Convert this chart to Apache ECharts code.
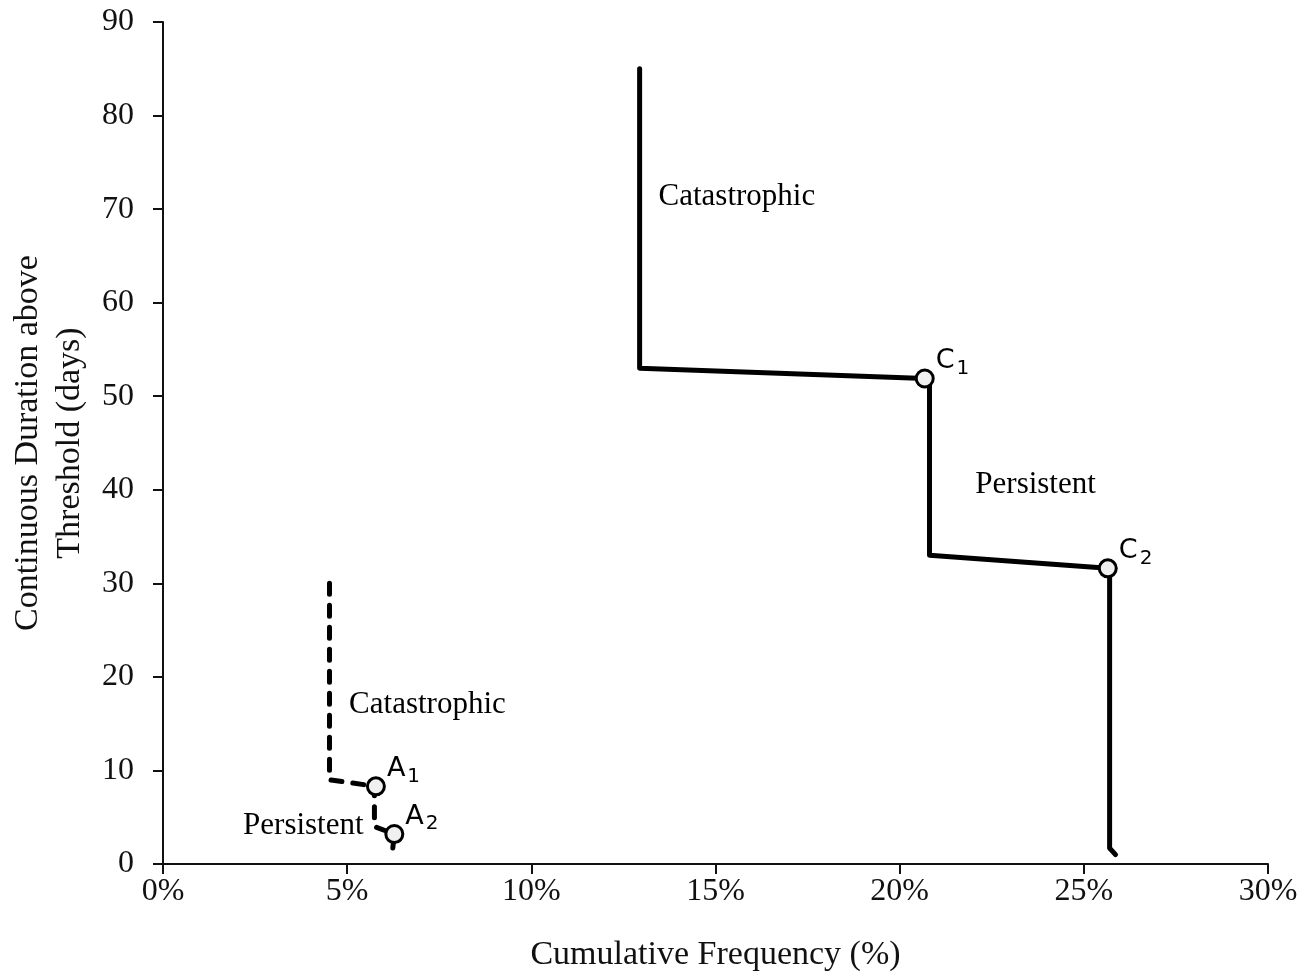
<!DOCTYPE html>
<html>
<head>
<meta charset="utf-8">
<script src="https://cdn.jsdelivr.net/npm/echarts@6/dist/echarts.min.js"></script>
<style>html,body{margin:0;padding:0;background:#fff}#c{width:1306px;height:976px}</style>
</head>
<body>
<div id="c"></div>
<script>
// Solid line (C): [cumulative frequency %, duration days]
const solidX = [12.94, 12.94, 20.68, 20.81, 20.81, 25.65, 25.70, 25.70, 25.86];
const solidY = [85, 53, 51.9, 51.5, 33.0, 31.6, 31.0, 1.7, 1.0];
// Dashed line (A)
const dashX = [4.52, 4.52, 5.78, 5.74, 5.74, 6.28, 6.22];
const dashY = [30.0, 9.0, 8.3, 7.5, 4.0, 3.2, 1.0];
// Marked points
const markNames = ['C1', 'C2', 'A1', 'A2'];
const markX = [20.68, 25.65, 5.78, 6.28];
const markY = [51.9, 31.6, 8.3, 3.2];
// Region text labels
const textLabels = ['Catastrophic', 'Persistent', 'Catastrophic', 'Persistent'];
const textX = [15.58, 23.69, 7.18, 3.81];
const textY = [71.3, 40.5, 17.0, 4.05];
// Axis ticks
const xTicks = [0, 5, 10, 15, 20, 25, 30];
const yTicks = [0, 10, 20, 30, 40, 50, 60, 70, 80, 90];

const serif = '"Liberation Serif", "Times New Roman", serif';
const zip = (a, b) => a.map((v, i) => [v, b[i]]);

const chart = echarts.init(document.getElementById('c'));
chart.setOption({
  animation: false,
  backgroundColor: '#fff',
  grid: { left: 163, right: 38, top: 22, bottom: 112, containLabel: false, outerBoundsMode: 'none' },
  xAxis: {
    type: 'value', min: xTicks[0], max: xTicks[xTicks.length - 1], interval: 5,
    name: 'Cumulative Frequency (%)', nameLocation: 'middle', nameGap: 74,
    nameTextStyle: { fontFamily: serif, fontSize: 34, color: '#111' },
    axisLine: { lineStyle: { color: '#111', width: 2 } },
    axisTick: { show: true, length: 10, lineStyle: { color: '#111', width: 2 } },
    axisLabel: { formatter: '{value}%', fontFamily: serif, fontSize: 32, color: '#111', margin: 12 },
    splitLine: { show: false }
  },
  yAxis: {
    type: 'value', min: yTicks[0], max: yTicks[yTicks.length - 1], interval: 10,
    name: 'Continuous Duration above\nThreshold (days)', nameLocation: 'middle', nameGap: 70,
    nameTextStyle: { fontFamily: serif, fontSize: 34, color: '#111', lineHeight: 42 },
    axisLine: { show: true, lineStyle: { color: '#111', width: 2 } },
    axisTick: { show: true, length: 10, lineStyle: { color: '#111', width: 2 } },
    axisLabel: { fontFamily: serif, fontSize: 32, color: '#111', margin: 29 },
    splitLine: { show: false }
  },
  series: [
    {
      type: 'line', data: zip(solidX, solidY), showSymbol: false, symbol: 'none',
      lineStyle: { color: '#000', width: 5, cap: 'round', join: 'round' }, z: 2
    },
    {
      type: 'line', data: zip(dashX, dashY), showSymbol: false, symbol: 'none',
      lineStyle: { color: '#000', width: 5, type: [11, 11], cap: 'round', join: 'round' }, z: 2
    },
    {
      type: 'scatter', data: markX.map((x, i) => ({ value: [x, markY[i]], name: markNames[i] })),
      symbol: 'circle', symbolSize: 17,
      itemStyle: { color: '#f0f0f0', borderColor: '#000', borderWidth: 3, opacity: 1 },
      label: {
        show: true, position: 'right', distance: 1, offset: [0, -17],
        formatter: p => '{m|' + p.name[0] + '}{s|' + p.name[1] + '}',
        rich: {
          m: { fontFamily: '"DejaVu Sans", sans-serif', fontSize: 27, color: '#000' },
          s: { fontFamily: '"DejaVu Sans", sans-serif', fontSize: 20, color: '#000', padding: [14, 0, 0, 2] }
        }
      },
      z: 3
    },
    {
      type: 'scatter', data: textX.map((x, i) => ({ value: [x, textY[i]], name: textLabels[i] })),
      symbol: 'circle', symbolSize: 1, silent: true,
      itemStyle: { color: 'rgba(255,255,255,0)', opacity: 1 },
      label: {
        show: true, position: 'inside', formatter: p => p.name,
        fontFamily: serif, fontSize: 31, color: '#000', textBorderWidth: 0, opacity: 1
      },
      z: 4
    }
  ]
});
</script>
</body>
</html>
